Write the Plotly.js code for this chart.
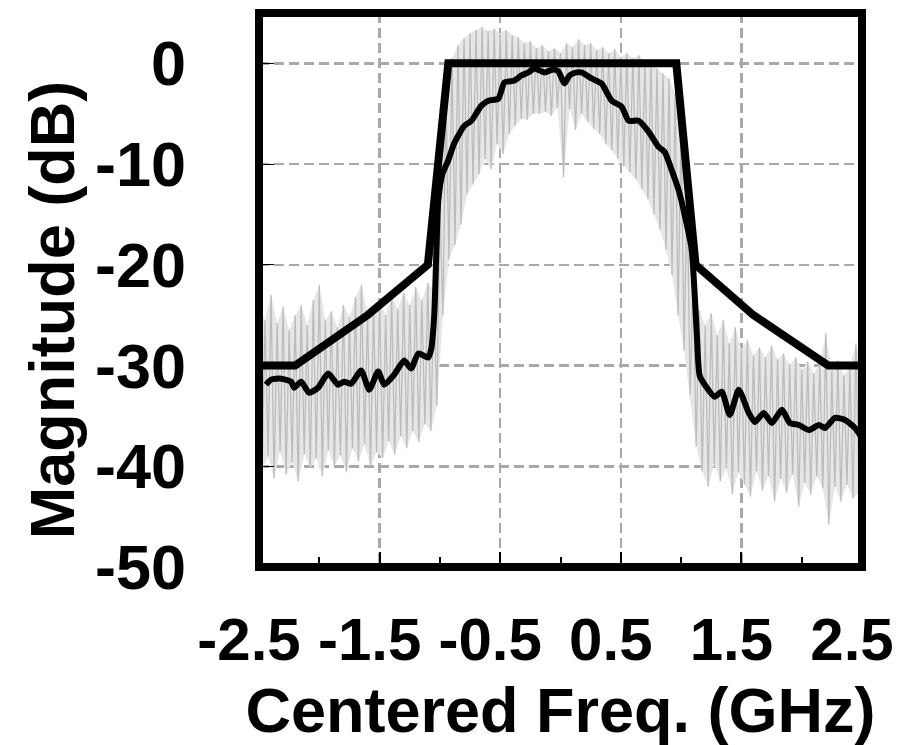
<!DOCTYPE html>
<html>
<head>
<meta charset="utf-8">
<script src="https://cdn.plot.ly/plotly-3.0.1.min.js"></script>
<style>
  html, body { margin: 0; padding: 0; background: #ffffff; }
  #chart { width: 903px; height: 745px; }
</style>
</head>
<body>
<div id="chart"></div>
<script>
// ---------------- data ----------------
// x tick labels (GHz) and y ticks (dB)
const xTickVals = [-2.5, -1.5, -0.5, 0.5, 1.5, 2.5];
const xTickText = ["-2.5", "-1.5", "-0.5", "0.5", "1.5", "2.5"];
const xMinorVals = [-2, -1, 0, 1, 2];
const yTickVals = [0, -10, -20, -30, -40, -50];
const yTickText = ["0", "-10", "-20", "-30", "-40", "-50"];

// spectral mask (thick black)
const maskFreq = [-2.5, -2.2, -1.6, -1.1, -0.93, 0.96, 1.12, 1.6, 2.22, 2.5];
const maskMag  = [-30, -30, -25, -20, 0, 0, -20, -25, -30, -30];

// averaged measured spectrum (black)
const measFreq = [-2.442, -2.400, -2.317, -2.234, -2.209, -2.151, -2.085, -2.010, -1.927, -1.844,
                  -1.794, -1.736, -1.653, -1.586, -1.512, -1.462, -1.379, -1.296, -1.238, -1.179,
                  -1.096, -1.071, -1.047, -1.030, -1.013, -0.980, -0.930, -0.880, -0.797, -0.739,
                  -0.656, -0.598, -0.515, -0.465, -0.382, -0.324, -0.266, -0.216, -0.133, -0.058,
                  -0.017, 0.033, 0.075, 0.133, 0.174, 0.257, 0.341, 0.424, 0.507, 0.565,
                  0.648, 0.731, 0.814, 0.864, 0.922, 0.980, 1.038, 1.088, 1.130, 1.154,
                  1.196, 1.279, 1.337, 1.404, 1.478, 1.561, 1.611, 1.686, 1.752, 1.836,
                  1.902, 1.977, 2.060, 2.143, 2.193, 2.276, 2.359, 2.442, 2.500];
const measMag  = [-31.9, -31.4, -31.3, -31.6, -32.2, -31.6, -32.7, -32.2, -30.8, -31.9,
                  -31.6, -31.8, -30.5, -32.4, -30.6, -31.9, -30.9, -29.5, -30.3, -28.8,
                  -29.2, -28.3, -25.0, -19.0, -13.6, -11.0, -9.6, -7.9, -6.2, -5.7,
                  -4.2, -3.7, -3.5, -1.9, -1.7, -1.2, -0.9, -0.5, -0.9, -0.6,
                  -0.8, -2.0, -1.2, -0.9, -0.9, -1.5, -2.0, -3.7, -4.3, -5.7,
                  -5.7, -6.8, -8.3, -8.8, -10.6, -12.6, -15.5, -18.5, -26.8, -31.0,
                  -31.9, -33.1, -32.6, -34.9, -32.4, -34.7, -35.6, -34.7, -35.7, -34.4,
                  -35.7, -35.9, -36.4, -35.9, -36.2, -35.2, -35.4, -36.2, -37.2];

// raw (unaveraged) spectrum, gray: sampled every 0.05 GHz from -2.5,
// peak readings at the grid points and trough readings half a step later
const rawStart = -2.5;
const rawStep = 0.05;
const rawPeak = [-24.5, -25.5, -23.0, -25.8, -24.2, -26.5, -25.0, -24.0, -26.0, -23.5,
                 -22.0, -25.5, -24.6, -26.2, -24.0, -25.2, -23.2, -22.0, -25.0, -24.0,
                 -23.5, -25.0, -23.0, -24.4, -22.8, -24.0, -22.2, -23.5, -21.8, -22.5,
                 -14.0, -3.0, 0.5, 1.8, 2.5, 3.0, 3.3, 3.6, 3.2, 3.4,
                 3.0, 3.3, 2.8, 2.6, 2.0, 2.2, 1.5, 1.8, 1.2, 1.5,
                 1.0, 2.0, 1.6, 2.4, 1.8, 2.0, 1.3, 1.6, 1.0, 1.4,
                 0.6, 1.0, 0.5, 0.8, 0.2, 0.0, -0.5, -1.0, -1.5, -3.0,
                 -6.0, -12.0, -21.0, -24.5, -26.0, -24.8, -27.0, -25.5, -27.8, -26.2,
                 -28.4, -27.5, -29.0, -28.2, -29.2, -28.0, -29.4, -28.8, -30.0, -29.2,
                 -30.4, -29.6, -30.8, -29.8, -26.8, -30.5, -29.5, -31.0, -30.2, -27.8,
                 -31.0];
const rawTrough = [-40.5, -39.0, -41.2, -38.5, -40.8, -39.6, -41.5, -38.8, -40.2, -39.2,
                   -41.0, -38.4, -40.0, -38.9, -40.6, -38.2, -39.5, -37.8, -40.0, -38.6,
                   -39.2, -37.5, -38.8, -37.0, -38.2, -36.5, -37.6, -35.8, -36.5, -34.0,
                   -25.0, -19.5, -18.0, -16.0, -13.0, -12.0, -11.0, -9.5, -10.5, -8.0,
                   -9.0, -7.0, -6.2, -5.5, -5.6, -5.0, -5.0, -4.8, -5.2, -4.4,
                   -11.3, -4.5, -6.6, -5.0, -5.8, -6.5, -7.0, -8.0, -8.6, -9.5,
                   -10.2, -10.8, -11.5, -12.5, -13.5, -15.0, -16.5, -18.5, -21.0, -25.0,
                   -28.5, -33.0, -38.0, -40.5, -42.0, -39.8, -41.5, -40.2, -42.8, -40.6,
                   -41.8, -43.0, -40.5, -42.4, -41.0, -43.5, -41.2, -42.6, -40.8, -44.0,
                   -41.6, -42.8, -41.0, -42.2, -45.8, -42.0, -43.5, -41.8, -43.2, -42.6];

const xTitle = "Centered Freq. (GHz)";
const yTitle = "Magnitude (dB)";

// ---------------- build ----------------
const rawX = [], rawY = [];
const peakX = [], troughX = [];
for (let i = 0; i < rawPeak.length; i++) {
  const f = rawStart + rawStep * i;
  peakX.push(f);
  rawX.push(f);
  rawY.push(rawPeak[i]);
  if (i < rawTrough.length) {
    const g = f + rawStep / 2;
    troughX.push(g);
    rawX.push(g);
    rawY.push(rawTrough[i]);
  }
}
// light band between the peak and trough readings (the dense hatch of the raw trace)
const bandX = peakX.concat(troughX.slice().reverse());
const bandY = rawPeak.concat(rawTrough.slice().reverse());

const FONT = "'Liberation Sans', Arial, Helvetica, sans-serif";

const traces = [
  { x: bandX, y: bandY, type: "scatter", mode: "lines", fill: "toself",
    fillcolor: "#e6e6e6", line: { width: 0, color: "rgba(0,0,0,0)" }, hoverinfo: "skip", name: "raw band" },
  { x: rawX, y: rawY, type: "scatter", mode: "lines",
    line: { color: "#bcbcbc", width: 1.3 }, hoverinfo: "skip", name: "raw" },
  { x: measFreq, y: measMag, type: "scatter", mode: "lines",
    line: { color: "#000000", width: 6, shape: "spline", smoothing: 0.6 }, name: "measured" },
  { x: maskFreq, y: maskMag, type: "scatter", mode: "lines",
    line: { color: "#000000", width: 8 }, name: "mask" }
];

const layout = {
  width: 903, height: 745,
  margin: { l: 259, r: 41, t: 13, b: 178, pad: 0 },
  paper_bgcolor: "#ffffff", plot_bgcolor: "#ffffff",
  showlegend: false,
  font: { family: FONT, color: "#000000" },
  xaxis: {
    range: [-2.5, 2.5], tickmode: "array", tickvals: xTickVals, ticktext: xTickText,
    ticks: "inside", ticklen: 15, tickwidth: 2, tickcolor: "#000000",
    showgrid: true, gridcolor: "#a9a9a9", gridwidth: 2.5, griddash: "10px,5px",
    zeroline: false, showline: false, automargin: false,
    ticklabelstandoff: 32, ticklabelshift: -10, ticklabeloverflow: "allow",
    tickfont: { family: FONT, size: 60, weight: "bold", color: "#000000" },
    minor: { tickmode: "array", tickvals: xMinorVals, ticks: "inside", ticklen: 10,
             tickwidth: 2, tickcolor: "#000000", showgrid: false },
    title: { text: xTitle, standoff: 20,
             font: { family: FONT, size: 63, weight: "bold", color: "#000000" } }
  },
  yaxis: {
    range: [-50, 5], tickmode: "array", tickvals: yTickVals, ticktext: yTickText,
    ticks: "inside", ticklen: 15, tickwidth: 1, tickcolor: "#000000",
    showgrid: true, gridcolor: "#a9a9a9", gridwidth: 2.5, griddash: "10px,5px",
    zeroline: false, showline: false, automargin: false,
    ticklabelstandoff: 72, ticklabeloverflow: "allow",
    tickfont: { family: FONT, size: 63, weight: "bold", color: "#000000" }
  },
  annotations: [
    { text: yTitle, xref: "paper", yref: "paper", x: 0, y: 0.4634,
      xanchor: "center", yanchor: "middle", xshift: -207, textangle: -90,
      showarrow: false,
      font: { family: FONT, size: 63, weight: "bold", color: "#000000" } }
  ],
  shapes: [
    { type: "rect", xref: "paper", yref: "paper", x0: 0, x1: 1, y0: 0, y1: 1,
      line: { color: "#000000", width: 8 }, layer: "above" }
  ]
};

Plotly.newPlot("chart", traces, layout, { staticPlot: true, displayModeBar: false });
</script>
</body>
</html>
